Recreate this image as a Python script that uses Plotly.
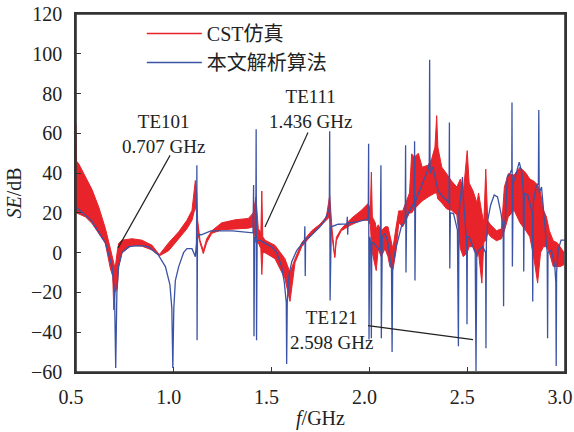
import plotly.graph_objects as go

# ---------------- data ----------------
# analytic method (blue)
blue_f = [0.500, 0.580, 0.650, 0.684, 0.697, 0.703, 0.709, 0.718, 0.735, 0.770,
          0.820, 0.870, 0.920, 0.957, 0.980, 0.990, 0.995, 1.000, 1.008, 1.025,
          1.050, 1.067, 1.093, 1.110, 1.116, 1.118, 1.119, 1.121, 1.140, 1.190,
          1.300, 1.380, 1.405, 1.408, 1.410, 1.413, 1.419, 1.421, 1.423, 1.426,
          1.440, 1.466, 1.500, 1.526, 1.551, 1.565, 1.575, 1.577, 1.580, 1.589,
          1.603, 1.628, 1.654, 1.668, 1.670, 1.672, 1.674, 1.696, 1.747, 1.770,
          1.788, 1.795, 1.797, 1.799, 1.805, 1.840, 1.885, 1.887, 1.889, 1.891,
          1.940, 1.976, 1.994, 1.996, 1.998, 2.002, 2.008, 2.010, 2.012, 2.020,
          2.040, 2.055, 2.059, 2.061, 2.066, 2.080, 2.095, 2.105, 2.113, 2.116,
          2.119, 2.130, 2.150, 2.163, 2.183, 2.185, 2.187, 2.190, 2.210, 2.229,
          2.231, 2.233, 2.236, 2.250, 2.283, 2.300, 2.306, 2.308, 2.310, 2.325,
          2.350, 2.376, 2.400, 2.407, 2.409, 2.411, 2.414, 2.430, 2.450, 2.455,
          2.458, 2.468, 2.476, 2.479, 2.490, 2.497, 2.499, 2.501, 2.510, 2.528,
          2.541, 2.545, 2.549, 2.560, 2.580, 2.594, 2.596, 2.598, 2.605, 2.620,
          2.638, 2.655, 2.673, 2.684, 2.686, 2.688, 2.695, 2.705, 2.720, 2.728,
          2.729, 2.731, 2.735, 2.745, 2.766, 2.780, 2.787, 2.789, 2.792, 2.810,
          2.833, 2.835, 2.838, 2.852, 2.864, 2.866, 2.868, 2.880, 2.895, 2.909,
          2.911, 2.913, 2.930, 2.948, 2.953, 2.955, 2.957, 2.965, 2.980, 3.000]
blue_se = [23.0, 16.0, 5.0, -7.0, -20.0, -58.0, -20.0, -7.0, 0.0, 3.0,
           3.5, 3.0, -1.0, -7.0, -16.0, -28.0, -58.0, -28.0, -14.0, -7.0,
           0.0, 2.0, 2.0, -2.0, 5.0, 44.0, -44.0, 9.0, 9.0, 11.0,
           11.0, 10.5, 10.0, 34.0, -42.0, 8.0, 7.0, 62.0, -44.0, 6.0,
           6.3, 4.7, 3.0, 0.0, -7.0, -15.0, -25.0, -56.0, -25.0, -11.0,
           -4.5, 1.0, 4.5, 6.0, 13.3, -11.7, 7.0, 8.0, 13.0, 16.0,
           20.0, 22.0, 61.0, -24.0, 13.0, 14.3, 14.5, 18.0, 9.0, 15.0,
           15.5, 16.3, 17.0, 54.7, -43.7, 8.0, 5.0, -43.0, 5.0, 5.0,
           3.0, 1.0, 44.0, -43.0, 8.0, 9.7, 5.0, -2.0, -8.0, -50.0,
           -8.0, 0.0, 8.0, 13.0, 16.0, 54.0, -10.0, 18.0, 22.0, 25.0,
           56.0, -14.0, 26.0, 29.7, 38.0, 42.0, 45.0, 97.0, 40.0, 43.0,
           31.3, 28.0, 26.0, 25.0, 65.5, -8.0, 20.0, 19.7, 11.3, -47.0,
           20.0, 29.7, 38.0, 29.0, 15.0, 5.0, -36.0, 8.0, 8.0, 3.0,
           0.0, -59.5, 0.0, 1.3, 3.0, 0.0, -48.0, 5.0, 16.3, 24.0,
           29.0, 28.0, 19.7, 12.0, -27.0, 14.0, 16.3, 38.0, 40.0, 42.0,
           75.5, -7.0, 35.0, 38.0, 45.5, 40.0, 30.0, -9.5, 30.0, 28.8,
           20.0, -24.5, 25.0, 33.0, 35.0, 71.7, 30.0, 33.0, 16.3, 0.0,
           -43.0, 0.0, 1.3, -7.0, -15.0, -57.0, -10.0, 1.3, 6.3, 6.3]

# CST simulation (red): upper / lower envelope of the fast oscillation
red_f = [0.500, 0.503, 0.514, 0.548, 0.582, 0.616, 0.650, 0.675, 0.688, 0.693,
         0.700, 0.710, 0.718, 0.735, 0.786, 0.837, 0.889, 0.926, 0.974, 1.025,
         1.067, 1.093, 1.110, 1.117, 1.122, 1.134, 1.151, 1.168, 1.194, 1.245,
         1.313, 1.381, 1.406, 1.420, 1.432, 1.445, 1.450, 1.455, 1.466, 1.517,
         1.568, 1.594, 1.620, 1.654, 1.705, 1.747, 1.780, 1.797, 1.809, 1.823,
         1.831, 1.856, 1.907, 1.959, 1.993, 2.005, 2.010, 2.015, 2.030, 2.035,
         2.045, 2.060, 2.080, 2.095, 2.105, 2.120, 2.135, 2.150, 2.170, 2.205,
         2.216, 2.230, 2.250, 2.270, 2.300, 2.318, 2.335, 2.344, 2.350, 2.370,
         2.395, 2.420, 2.447, 2.465, 2.480, 2.500, 2.510, 2.530, 2.550, 2.558,
         2.575, 2.585, 2.595, 2.605, 2.620, 2.650, 2.675, 2.690, 2.710, 2.740,
         2.770, 2.800, 2.820, 2.840, 2.860, 2.875, 2.890, 2.905, 2.920, 2.940,
         2.960, 2.975, 2.996]
red_upper = [65.0, 46.0, 44.7, 38.0, 31.7, 23.0, 12.3, 2.3, -3.0, -5.0,
             -8.0, 0.0, 4.7, 6.3, 7.0, 6.3, 3.7, -1.0, 5.0, 10.5,
             16.3, 21.3, 36.3, 30.0, 16.3, 6.3, 1.0, 7.0, 11.0, 15.0,
             16.5, 17.2, 20.0, 28.0, 12.0, 10.0, 31.0, 8.0, 6.3, 3.7,
             -3.0, -10.0, -3.0, 5.0, 11.0, 14.3, 18.0, 28.8, 12.0, -2.0,
             7.7, 12.0, 17.2, 21.3, 24.7, 22.0, 40.5, 18.0, 15.0, 12.0,
             14.0, 11.0, 13.0, 13.0, 8.0, 2.0, 12.0, 21.0, 21.0, 30.0,
             49.7, 48.0, 50.0, 43.0, 44.0, 47.0, 53.0, 68.9, 53.0, 43.0,
             39.7, 36.0, 33.0, 37.0, 30.0, 51.3, 35.0, 31.0, 25.0, 30.0,
             20.0, 15.0, 42.0, 16.0, 14.0, 11.0, 12.0, 33.0, 39.7, 39.0,
             43.0, 40.0, 37.0, 36.0, 34.0, 30.0, 21.3, 18.0, 11.0, 6.0,
             5.0, 3.0, 0.0]
red_lower = [20.0, 20.0, 19.5, 18.0, 14.7, 9.7, 4.7, -7.7, -12.0, -28.7,
             -20.0, -18.0, -7.0, 0.0, 3.7, 3.3, 1.3, -1.6, 1.0, 7.0,
             12.0, 16.3, 23.0, 20.0, 10.0, 5.0, -0.5, 5.0, 9.7, 11.5,
             11.8, 12.3, 13.0, 5.0, 5.0, 2.0, -11.0, 0.0, 0.0, -3.0,
             -13.0, -24.5, -5.0, 3.0, 9.0, 13.0, 16.0, 18.0, 8.0, -2.5,
             6.0, 11.0, 14.0, 16.3, 16.3, 14.0, 5.0, 0.0, -7.0, -9.0,
             2.0, -2.0, 2.0, -2.0, -7.0, -8.5, 0.0, 15.0, 13.0, 20.0,
             20.0, 22.0, 24.0, 26.0, 28.0, 29.0, 30.0, 30.0, 27.0, 25.0,
             22.0, 21.3, 19.0, 2.0, -2.0, 0.0, 3.0, 3.0, -2.0, 0.0,
             -15.3, 5.0, 6.3, 10.0, 8.0, 6.0, 7.0, 11.0, 18.0, 21.3,
             15.0, 11.0, 8.0, -2.0, -15.3, 0.0, 3.0, 3.0, 0.0, -7.0,
             -7.0, -7.0, -6.0]

x_tickvals = [0.5, 1.0, 1.5, 2.0, 2.5, 3.0]
x_ticktext = ["0.5", "1.0", "1.5", "2.0", "2.5", "3.0"]
y_tickvals = [-60, -40, -20, 0, 20, 40, 60, 80, 100, 120]
y_ticktext = ["\u221260", "\u221240", "\u221220", "0", "20", "40", "60", "80", "100", "120"]

series_names = ["CST仿真", "本文解析算法"]

# ---------------- style ----------------
RED = "#e8232a"
BLUE = "#3a53a4"
AX = "#333333"
FONT = "Liberation Serif, Noto Sans CJK SC, serif"

fig = go.Figure()
fig.add_trace(go.Scatter(x=red_f, y=red_upper, mode="lines",
                         line=dict(color=RED, width=1), showlegend=False, hoverinfo="skip"))
fig.add_trace(go.Scatter(x=red_f, y=red_lower, mode="lines",
                         line=dict(color=RED, width=1), fill="tonexty", fillcolor=RED,
                         showlegend=False, hoverinfo="skip"))
fig.add_trace(go.Scatter(x=[None], y=[None], mode="lines",
                         line=dict(color=RED, width=1.5), name=series_names[0]))
fig.add_trace(go.Scatter(x=blue_f, y=blue_se, mode="lines",
                         line=dict(color=BLUE, width=1.3), name=series_names[1]))

# annotation leader lines
leaders = [((0.981, 48.9), (0.715, 2.4)),
           ((1.686, 60.4), (1.466, 12.9)),
           ((1.993, -36.7), (2.530, -43.7))]
for (x0, y0), (x1, y1) in leaders:
    fig.add_shape(type="line", x0=x0, y0=y0, x1=x1, y1=y1, xref="x", yref="y",
                  line=dict(color="#222222", width=1.2))

# plot frame
fig.add_shape(type="rect", xref="paper", yref="paper", x0=0, y0=0, x1=1, y1=1,
              line=dict(color=AX, width=1.6), fillcolor="rgba(0,0,0,0)", layer="above")

labels = [("TE101<br>0.707 GHz", 0.945, 59.5),
          ("TE111<br>1.436 GHz", 1.701, 72.0),
          ("TE121<br>2.598 GHz", 1.807, -39.0)]
for t, x, y in labels:
    fig.add_annotation(x=x, y=y, xref="x", yref="y", text=t, showarrow=False,
                       font=dict(family=FONT, size=19, color="#222222"),
                       xanchor="center", yanchor="middle")

fig.update_layout(
    width=574, height=432,
    margin=dict(l=76, r=9, t=14, b=60, autoexpand=False),
    paper_bgcolor="white", plot_bgcolor="white",
    font=dict(family=FONT, size=20, color="#222222"),
    showlegend=True,
    legend=dict(x=0.1346, y=1.0, xanchor="left", yanchor="top",
                traceorder="normal",
                bgcolor="rgba(0,0,0,0)", font=dict(family=FONT, size=20),
                itemwidth=55, tracegroupgap=0),
)
fig.update_xaxes(range=[0.5, 3.0], tickvals=x_tickvals, ticktext=x_ticktext,
                 ticks="inside", ticklen=5, tickwidth=1.3, tickcolor=AX,
                 showline=True, linecolor=AX, linewidth=1.6, mirror=True,
                 showgrid=False, zeroline=False, ticklabelstandoff=6,
                 ticklabelshift=-5,
                 ticklabeloverflow="allow", automargin=False,
                 title=dict(text="<i>f</i>/GHz", standoff=4,
                            font=dict(family=FONT, size=20)))
fig.update_yaxes(range=[-60, 120], tickvals=y_tickvals, ticktext=y_ticktext,
                 ticks="inside", ticklen=5, tickwidth=1.3, tickcolor=AX,
                 showline=True, linecolor=AX, linewidth=1.6, mirror=True,
                 showgrid=False, zeroline=False, ticklabelstandoff=8,
                 automargin=False,
                 title=dict(text="<i>SE</i>/dB", standoff=4,
                            font=dict(family=FONT, size=20)))

fig.write_html("out.html")
